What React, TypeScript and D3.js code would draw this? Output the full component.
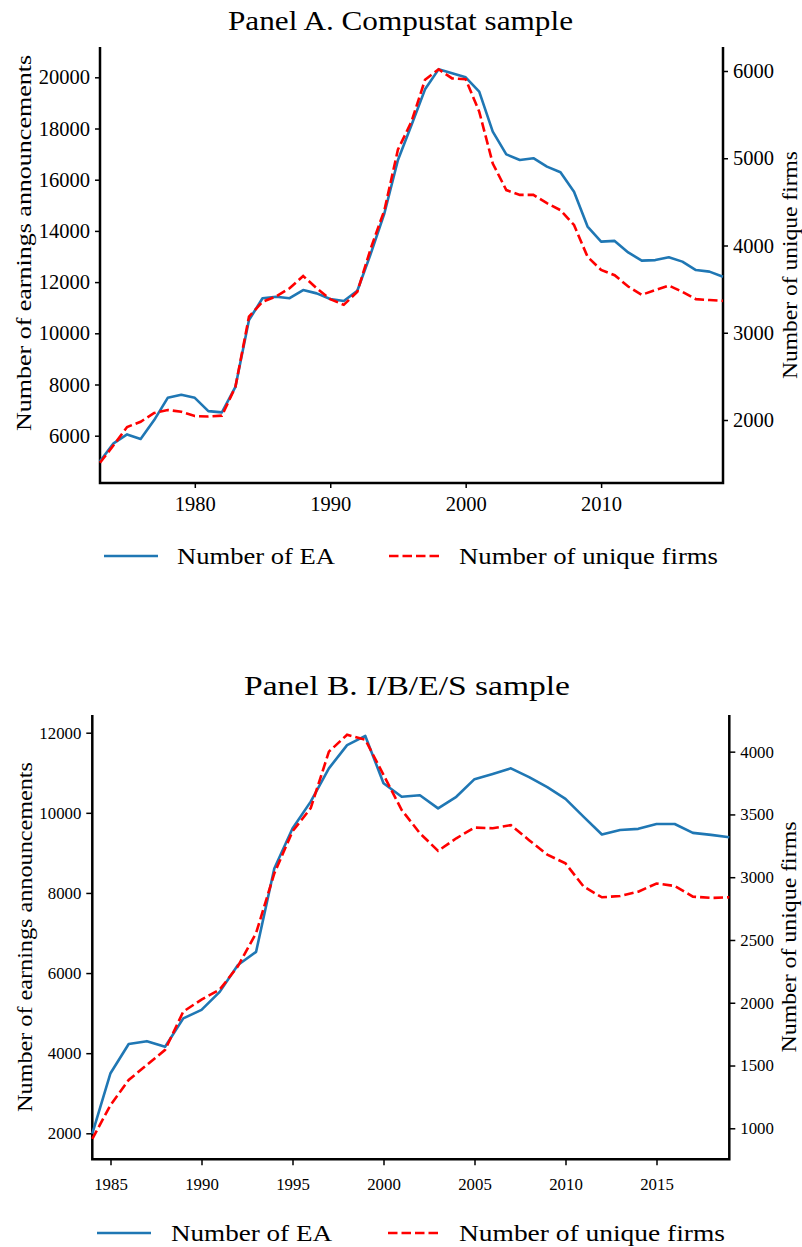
import React, { useEffect, useRef } from "react";
import * as d3 from "d3";

// Panel A: Compustat sample, 1973-2019
const compYears = d3.range(1973, 2020);
const compEA = [
  5000, 5700, 6050, 5870, 6610, 7480, 7600, 7480, 6960, 6910, 7910, 10520, 11370, 11430, 11370, 11690,
  11560, 11340, 11260, 11660, 13120, 14690, 16770, 18140, 19530, 20310, 20160, 20000, 19440, 17880,
  16990, 16770, 16840, 16510, 16290, 15530, 14170, 13580, 13610, 13160, 12840, 12860, 12970, 12800,
  12470, 12410, 12210,
];
const compFirms = [
  1510, 1710, 1920, 1980, 2080, 2115, 2095, 2045, 2040, 2050, 2380, 3185, 3355, 3415, 3510, 3650,
  3510, 3385, 3320, 3470, 3970, 4405, 5100, 5420, 5900, 6020, 5915, 5905, 5535, 4940, 4635, 4580,
  4580, 4485, 4405, 4235, 3870, 3720, 3660, 3530, 3435, 3490, 3540, 3470, 3385, 3375, 3365,
];
const compXTicks = [1980, 1990, 2000, 2010];
const compLeftTicks = [6000, 8000, 10000, 12000, 14000, 16000, 18000, 20000];
const compRightTicks = [2000, 3000, 4000, 5000, 6000];

// Panel B: I/B/E/S sample, 1984-2019
const ibesYears = d3.range(1984, 2020);
const ibesEA = [
  1990, 3500, 4230, 4300, 4160, 4870, 5080, 5530, 6200, 6530, 8610, 9610, 10280, 11110, 11690, 11920,
  10740, 10400, 10440, 10110, 10400, 10840, 10970, 11110, 10890, 10640, 10350, 9900, 9460, 9570, 9600,
  9720, 9720, 9500, 9450, 9390,
];
const ibesFirms = [
  915, 1185, 1385, 1505, 1625, 1930, 2025, 2105, 2290, 2555, 3030, 3365, 3550, 4000, 4135, 4095,
  3815, 3535, 3350, 3210, 3310, 3395, 3390, 3415, 3295, 3180, 3110, 2925, 2840, 2850, 2885, 2950,
  2930, 2845, 2835, 2840,
];
const ibesXTicks = [1985, 1990, 1995, 2000, 2005, 2010, 2015];
const ibesLeftTicks = [2000, 4000, 6000, 8000, 10000, 12000];
const ibesRightTicks = [1000, 1500, 2000, 2500, 3000, 3500, 4000];

const FONT = "Liberation Serif";
const BLUE = "#1f77b4";
const RED = "#ff0000";

interface PanelSpec {
  title: string;
  years: number[];
  ea: number[];
  firms: number[];
  xTicks: number[];
  leftTicks: number[];
  rightTicks: number[];
  leftDomain: [number, number];
  rightDomain: [number, number];
  box: { x0: number; x1: number; top: number; bottom: number };
  titleX: number;
  titleY: number;
  titleLen: number;
  tickFont: number;
  tickSize: number;
  labelFont: number;
  labelLeft: { x: number; y: number; len: number };
  labelRight: { x: number; y: number; len: number };
  xTickY: number;
  legendY: number;
  legendX: number[];
  legendLen: number[];
}

const panels: PanelSpec[] = [
  {
    title: "Panel A. Compustat sample",
    years: compYears,
    ea: compEA,
    firms: compFirms,
    xTicks: compXTicks,
    leftTicks: compLeftTicks,
    rightTicks: compRightTicks,
    leftDomain: [4152, 21184],
    rightDomain: [1278, 6275],
    box: { x0: 100, x1: 723, top: 47, bottom: 483 },
    titleX: 400.5,
    titleY: 30,
    titleLen: 345,
    tickFont: 20.5,
    tickSize: 5,
    labelFont: 21,
    labelLeft: { x: 31, y: 243, len: 376 },
    labelRight: { x: 797, y: 265, len: 228 },
    xTickY: 511,
    legendY: 556,
    legendX: [104, 177, 389, 459],
    legendLen: [158, 259],
  },
  {
    title: "Panel B. I/B/E/S sample",
    years: ibesYears,
    ea: ibesEA,
    firms: ibesFirms,
    xTicks: ibesXTicks,
    leftTicks: ibesLeftTicks,
    rightTicks: ibesRightTicks,
    leftDomain: [1351, 12442],
    rightDomain: [753, 4292],
    box: { x0: 92.3, x1: 729.3, top: 715, bottom: 1159.3 },
    titleX: 407,
    titleY: 695,
    titleLen: 326,
    tickFont: 16.8,
    tickSize: 6,
    labelFont: 20,
    labelLeft: { x: 32, y: 937, len: 350 },
    labelRight: { x: 796, y: 937, len: 231 },
    xTickY: 1190,
    legendY: 1233,
    legendX: [97, 171, 388, 459],
    legendLen: [161, 266],
  },
];

const drawPanel = (svg: d3.Selection<SVGSVGElement, unknown, null, undefined>, p: PanelSpec) => {
  const { x0, x1, top, bottom } = p.box;
  const g = svg.append("g").attr("font-family", FONT).attr("fill", "#000");

  const x = d3.scaleLinear().domain([p.years[0], p.years[p.years.length - 1]]).range([x0, x1]);
  const yL = d3.scaleLinear().domain(p.leftDomain).range([bottom, top]);
  const yR = d3.scaleLinear().domain(p.rightDomain).range([bottom, top]);

  g.append("text")
    .attr("x", p.titleX)
    .attr("y", p.titleY)
    .attr("text-anchor", "middle")
    .attr("font-size", 27)
    .attr("textLength", p.titleLen)
    .attr("lengthAdjust", "spacingAndGlyphs")
    .text(p.title);

  const styleAxis = (ax: d3.Selection<SVGGElement, unknown, null, undefined>) => {
    ax.attr("font-family", FONT);
    ax.select(".domain").remove();
    ax.selectAll(".tick line").attr("stroke", "#000").attr("stroke-width", 1.5);
    ax.selectAll(".tick text").attr("font-size", p.tickFont).attr("fill", "#000");
  };

  // bottom axis
  const xa = g
    .append("g")
    .attr("transform", `translate(0,${bottom})`)
    .call(d3.axisBottom(x).tickValues(p.xTicks).tickFormat(d3.format("d")).tickSize(p.tickSize));
  styleAxis(xa);
  xa.selectAll(".tick text").attr("y", p.xTickY - bottom).attr("dy", null);

  // left and right axes
  const la = g
    .append("g")
    .attr("transform", `translate(${x0},0)`)
    .call(d3.axisLeft(yL).tickValues(p.leftTicks).tickFormat(d3.format("d")).tickSize(p.tickSize).tickPadding(5));
  styleAxis(la);

  const ra = g
    .append("g")
    .attr("transform", `translate(${x1},0)`)
    .call(d3.axisRight(yR).tickValues(p.rightTicks).tickFormat(d3.format("d")).tickSize(p.tickSize).tickPadding(5));
  styleAxis(ra);

  // spines (no top)
  g.append("path")
    .attr("d", `M${x0},${top}V${bottom}H${x1}V${top}`)
    .attr("fill", "none")
    .attr("stroke", "#000")
    .attr("stroke-width", 2.5);

  // axis labels
  const axisLabel = (spec: { x: number; y: number; len: number }, txt: string) =>
    g.append("text")
      .attr("transform", `translate(${spec.x},${spec.y}) rotate(-90)`)
      .attr("text-anchor", "middle")
      .attr("font-size", p.labelFont)
      .attr("textLength", spec.len)
      .attr("lengthAdjust", "spacingAndGlyphs")
      .text(txt);
  axisLabel(p.labelLeft, "Number of earnings announcements");
  axisLabel(p.labelRight, "Number of unique firms");

  // lines
  const lineL = d3
    .line<number>()
    .x((_, i) => x(p.years[i]))
    .y((d) => yL(d));
  const lineR = d3
    .line<number>()
    .x((_, i) => x(p.years[i]))
    .y((d) => yR(d));

  g.append("path")
    .datum(p.ea)
    .attr("d", lineL)
    .attr("fill", "none")
    .attr("stroke", BLUE)
    .attr("stroke-width", 2.6)
    .attr("stroke-linejoin", "round");
  g.append("path")
    .datum(p.firms)
    .attr("d", lineR)
    .attr("fill", "none")
    .attr("stroke", RED)
    .attr("stroke-width", 2.6)
    .attr("stroke-dasharray", "9.5,4");

  // legend
  const [lx1, tx1, lx2, tx2] = p.legendX;
  const leg = g.append("g").attr("font-size", 24);
  leg.append("line")
    .attr("x1", lx1).attr("x2", lx1 + 54)
    .attr("y1", p.legendY).attr("y2", p.legendY)
    .attr("stroke", BLUE).attr("stroke-width", 2.6);
  leg.append("text")
    .attr("x", tx1).attr("y", p.legendY + 8)
    .attr("textLength", p.legendLen[0]).attr("lengthAdjust", "spacingAndGlyphs")
    .text("Number of EA");
  leg.append("line")
    .attr("x1", lx2).attr("x2", lx2 + 50)
    .attr("y1", p.legendY).attr("y2", p.legendY)
    .attr("stroke", RED).attr("stroke-width", 2.6).attr("stroke-dasharray", "9.5,4");
  leg.append("text")
    .attr("x", tx2).attr("y", p.legendY + 8)
    .attr("textLength", p.legendLen[1]).attr("lengthAdjust", "spacingAndGlyphs")
    .text("Number of unique firms");
};

const App = () => {
  const svgRef = useRef<SVGSVGElement>(null);

  useEffect(() => {
    if (!svgRef.current) return;
    const svg = d3.select(svgRef.current);
    svg.selectAll("*").remove();
    panels.forEach((p) => drawPanel(svg, p));
  }, []);

  return (
    <svg
      ref={svgRef}
      width={802}
      height={1247}
      viewBox="0 0 802 1247"
      style={{ position: "absolute", left: 0, top: 0, background: "#fff" }}
    />
  );
};

export default App;
